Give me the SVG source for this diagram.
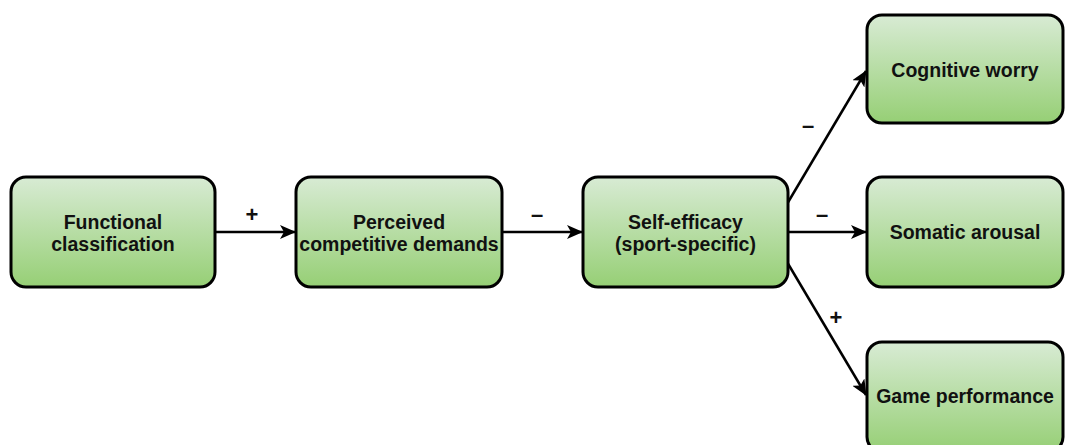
<svg xmlns="http://www.w3.org/2000/svg" width="1065" height="445" viewBox="0 0 1065 445">
  <style>
    .box { stroke: #000; stroke-width: 3; fill: url(#g); }
    .lbl { font-family: "Liberation Sans", Arial, sans-serif; font-weight: bold; font-size: 19.5px; fill: #111; text-anchor: middle; }
    .edge { stroke: #000; stroke-width: 2.5; fill: none; marker-end: url(#arr); }
    .sign { font-family: "Liberation Sans", Arial, sans-serif; font-weight: bold; font-size: 22px; fill: #111; text-anchor: middle; }
  </style>
  <defs>
    <linearGradient id="g" x1="0" y1="0" x2="0" y2="1">
      <stop offset="0" stop-color="#d8ebd4"/>
      <stop offset="1" stop-color="#96cf75"/>
    </linearGradient>
    <marker id="arr" viewBox="0 0 16 14" refX="15" refY="7" markerWidth="16" markerHeight="14" markerUnits="userSpaceOnUse" orient="auto">
      <path d="M0,0 L16,7 L0,14 L4,7 Z" fill="#000"/>
    </marker>
  </defs>
  <rect width="1065" height="445" fill="#fff"/>

  <g id="connectors">
    <line class="edge" x1="215" y1="232" x2="295" y2="232"/>
    <line class="edge" x1="502" y1="232" x2="582" y2="232"/>
    <line class="edge" x1="788" y1="232" x2="866" y2="232"/>
    <line class="edge" x1="787" y1="204" x2="866" y2="71"/>
    <line class="edge" x1="787" y1="262" x2="866" y2="395"/>
    <text class="sign" x="252" y="222">+</text>
    <text class="sign" x="537" y="222">–</text>
    <text class="sign" x="822" y="222">–</text>
    <text class="sign" x="808" y="133">–</text>
    <text class="sign" x="836" y="325">+</text>
  </g>

  <g id="functional">
    <rect class="box" x="11" y="177" width="204" height="110" rx="15"/>
    <text class="lbl" x="113" y="229">Functional</text>
    <text class="lbl" x="113" y="251">classification</text>
  </g>
  <g id="perceived">
    <rect class="box" x="296" y="177" width="206" height="110" rx="15"/>
    <text class="lbl" x="399" y="229">Perceived</text>
    <text class="lbl" x="399" y="251">competitive demands</text>
  </g>
  <g id="selfefficacy">
    <rect class="box" x="583" y="177" width="205" height="110" rx="15"/>
    <text class="lbl" x="685.5" y="229">Self-efficacy</text>
    <text class="lbl" x="685.5" y="251">(sport-specific)</text>
  </g>
  <g id="cognitive">
    <rect class="box" x="867" y="15" width="196" height="108" rx="15"/>
    <text class="lbl" x="965" y="77">Cognitive worry</text>
  </g>
  <g id="somatic">
    <rect class="box" x="867" y="177" width="196" height="110" rx="15"/>
    <text class="lbl" x="965" y="239">Somatic arousal</text>
  </g>
  <g id="game">
    <rect class="box" x="867" y="342" width="196" height="110" rx="15"/>
    <text class="lbl" x="965" y="403">Game performance</text>
  </g>
</svg>
